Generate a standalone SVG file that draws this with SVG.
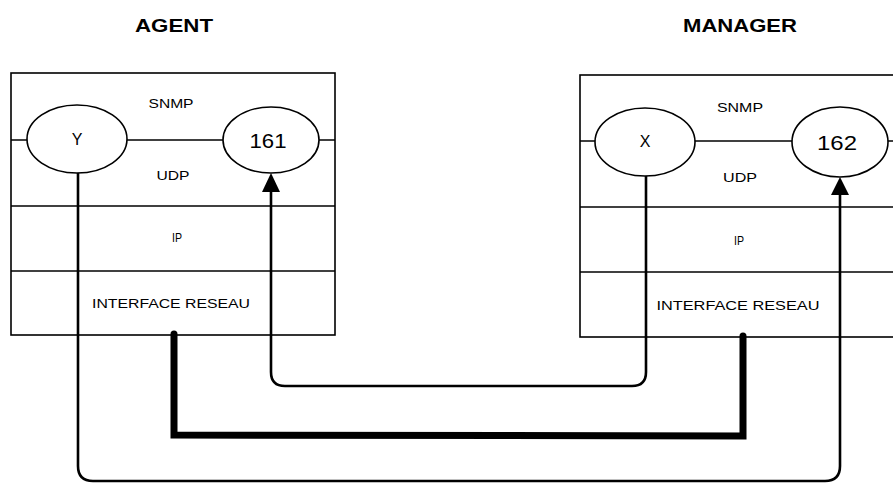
<svg xmlns="http://www.w3.org/2000/svg" width="893" height="484" viewBox="0 0 893 484">
<defs>
<style>
.box{fill:#fff;stroke:#000;stroke-width:1.6}
.sep{stroke:#000;stroke-width:1.6;fill:none}
.ell{fill:#fff;stroke:#000;stroke-width:1.6}
.lbl{font-family:"Liberation Sans",Arial,sans-serif;font-size:13px;fill:#000;text-anchor:middle}
.title{font-family:"Liberation Sans",Arial,sans-serif;font-size:18px;font-weight:bold;fill:#000;text-anchor:middle}
.port{font-family:"Liberation Sans",Arial,sans-serif;font-size:21px;fill:#000;text-anchor:middle}
.var{font-family:"Liberation Sans",Arial,sans-serif;font-size:16px;fill:#000;text-anchor:middle}
.wire{fill:none;stroke:#000;stroke-width:2.6}
.thick{fill:none;stroke:#000;stroke-width:7;stroke-linejoin:miter;stroke-linecap:round}
</style>
</defs>
<rect width="893" height="484" fill="#fff"/>

<g id="titles">
<text class="title" x="174" y="32" textLength="78" lengthAdjust="spacingAndGlyphs">AGENT</text>
<text class="title" x="740" y="32" textLength="114" lengthAdjust="spacingAndGlyphs">MANAGER</text>
</g>

<g id="agent">
<rect class="box" x="11" y="73" width="324" height="262"/>
<line class="sep" x1="11" y1="140" x2="335" y2="140"/>
<line class="sep" x1="11" y1="206" x2="335" y2="206"/>
<line class="sep" x1="11" y1="271" x2="335" y2="271"/>
<text class="lbl" x="171" y="108" textLength="45" lengthAdjust="spacingAndGlyphs">SNMP</text>
<text class="lbl" x="173" y="180" textLength="33" lengthAdjust="spacingAndGlyphs">UDP</text>
<text class="lbl" x="177" y="242" textLength="10" lengthAdjust="spacingAndGlyphs">IP</text>
<text class="lbl" x="171" y="308" textLength="158" lengthAdjust="spacingAndGlyphs">INTERFACE RESEAU</text>
</g>

<g id="manager">
<rect class="box" x="580" y="75" width="330" height="262"/>
<line class="sep" x1="580" y1="141" x2="893" y2="141"/>
<line class="sep" x1="580" y1="207" x2="893" y2="207"/>
<line class="sep" x1="580" y1="272" x2="893" y2="272"/>
<text class="lbl" x="740" y="112" textLength="46" lengthAdjust="spacingAndGlyphs">SNMP</text>
<text class="lbl" x="740" y="182" textLength="34" lengthAdjust="spacingAndGlyphs">UDP</text>
<text class="lbl" x="739" y="245" textLength="10" lengthAdjust="spacingAndGlyphs">IP</text>
<text class="lbl" x="738" y="310" textLength="163" lengthAdjust="spacingAndGlyphs">INTERFACE RESEAU</text>
</g>

<g id="port-Y">
<ellipse class="ell" cx="77" cy="139" rx="50" ry="34"/>
<text class="var" x="77" y="145">Y</text>
</g>
<g id="port-161">
<ellipse class="ell" cx="271" cy="140" rx="48" ry="33"/>
<text class="port" x="268" y="148" textLength="37" lengthAdjust="spacingAndGlyphs">161</text>
</g>
<g id="port-X">
<ellipse class="ell" cx="645" cy="142" rx="50" ry="34"/>
<text class="var" x="645" y="147">X</text>
</g>
<g id="port-162">
<ellipse class="ell" cx="840" cy="142" rx="48" ry="35"/>
<text class="port" x="837" y="150" textLength="40" lengthAdjust="spacingAndGlyphs">162</text>
</g>

<g id="connectors">
<path class="wire" d="M646,176 L646,372 Q646,386 632,386 L285,386 Q271,386 271,372 L271,192" />
<path d="M262,192 L271,173 L280,192 Z" fill="#000"/>
<path class="thick" d="M174,334 L174,435 L743,436 L743,336"/>
<path class="wire" d="M78,173 L78,466 Q78,481 93,481 L825,481 Q840,481 840,466 L840,195"/>
<path d="M831,195 L840,177 L849,195 Z" fill="#000"/>
</g>
</svg>
